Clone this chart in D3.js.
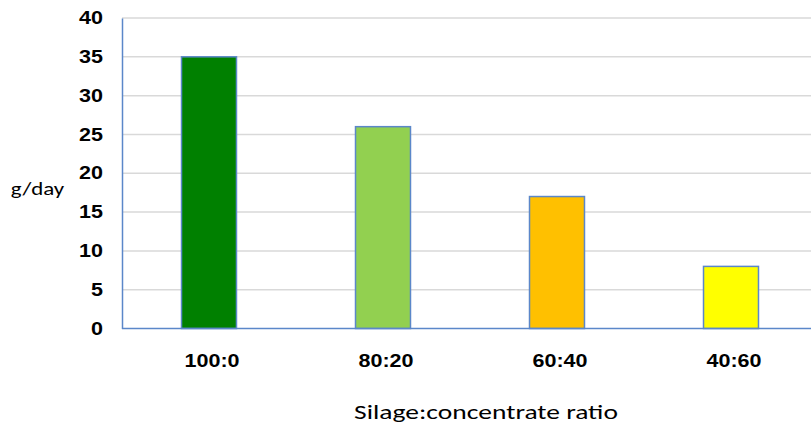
<!DOCTYPE html>
<html>
<head>
<meta charset="utf-8">
<script src="https://cdn.jsdelivr.net/npm/d3@7"></script>
<style>
  html, body { margin: 0; padding: 0; background: #fff; }
  svg { display: block; font-family: Carlito, Calibri, Lato, "Open Sans", sans-serif; }
</style>
</head>
<body>
<svg id="chart" width="811" height="426"></svg>
<script>
// Daily gain by silage:concentrate ratio
const categories = ["100:0", "80:20", "60:40", "40:60"];
const values = [35, 26, 17, 8];
const barColors = ["#008000", "#92d050", "#ffc000", "#ffff00"];
const yTicks = [0, 5, 10, 15, 20, 25, 30, 35, 40];

const svg = d3.select("#chart");
const plotLeft = 122, plotTop = 18, plotBottom = 328.5, bandStep = 174;
// the labels use a slightly widened face
const boldStretch = 1.23, plainStretch = 1.31;

const x = d3.scaleBand()
  .domain(categories)
  .range([plotLeft, plotLeft + bandStep * categories.length])
  .paddingInner(0.684)
  .paddingOuter(0.342);

const y = d3.scaleLinear().domain([0, 40]).range([plotBottom, plotTop]);

// horizontal gridlines
svg.append("g")
  .selectAll("line")
  .data(yTicks.filter(d => d > 0))
  .join("line")
  .attr("x1", plotLeft).attr("x2", 811)
  .attr("y1", d => y(d)).attr("y2", d => y(d))
  .attr("stroke", "#d9d9d9").attr("stroke-width", 1.5);

// bars
svg.append("g")
  .selectAll("rect")
  .data(values)
  .join("rect")
  .attr("x", (d, i) => x(categories[i]))
  .attr("width", x.bandwidth())
  .attr("y", d => y(d))
  .attr("height", d => y(0) - y(d))
  .attr("fill", (d, i) => barColors[i])
  .attr("stroke", "#5b87c9").attr("stroke-width", 1.5);

// y axis
const yAxis = svg.append("g")
  .attr("transform", `translate(${plotLeft},0)`)
  .call(d3.axisLeft(y).tickValues(yTicks).tickSize(0));
yAxis.select(".domain").attr("stroke", "#5b87c9").attr("stroke-width", 1.5);
yAxis.selectAll("text")
  .attr("font-family", null)
  .attr("font-size", 17.5).attr("font-weight", "bold").attr("fill", "#000")
  .attr("x", -19 / boldStretch)
  .attr("transform", `scale(${boldStretch},1)`);

// x axis
const xAxis = svg.append("g")
  .attr("transform", `translate(0,${plotBottom})`)
  .call(d3.axisBottom(x).tickSize(0));
xAxis.select(".domain").attr("d", `M${plotLeft},0H811`)
  .attr("stroke", "#5b87c9").attr("stroke-width", 1.5);
xAxis.selectAll("text")
  .attr("font-family", null)
  .attr("font-size", 17.5).attr("font-weight", "bold").attr("fill", "#000")
  .attr("x", 3 / boldStretch)
  .attr("y", 38.5).attr("dy", 0)
  .attr("transform", `scale(${boldStretch},1)`);

// axis titles
svg.append("text")
  .attr("transform", `translate(37.5,195) scale(${plainStretch},1)`)
  .attr("text-anchor", "middle")
  .attr("font-size", 17.5).attr("fill", "#000")
  .text("g/day");

svg.append("text")
  .attr("transform", `translate(486,419) scale(${plainStretch},1)`)
  .attr("text-anchor", "middle")
  .attr("font-size", 21).attr("fill", "#000")
  .text("Silage:concentrate ratio");
</script>
</body>
</html>
